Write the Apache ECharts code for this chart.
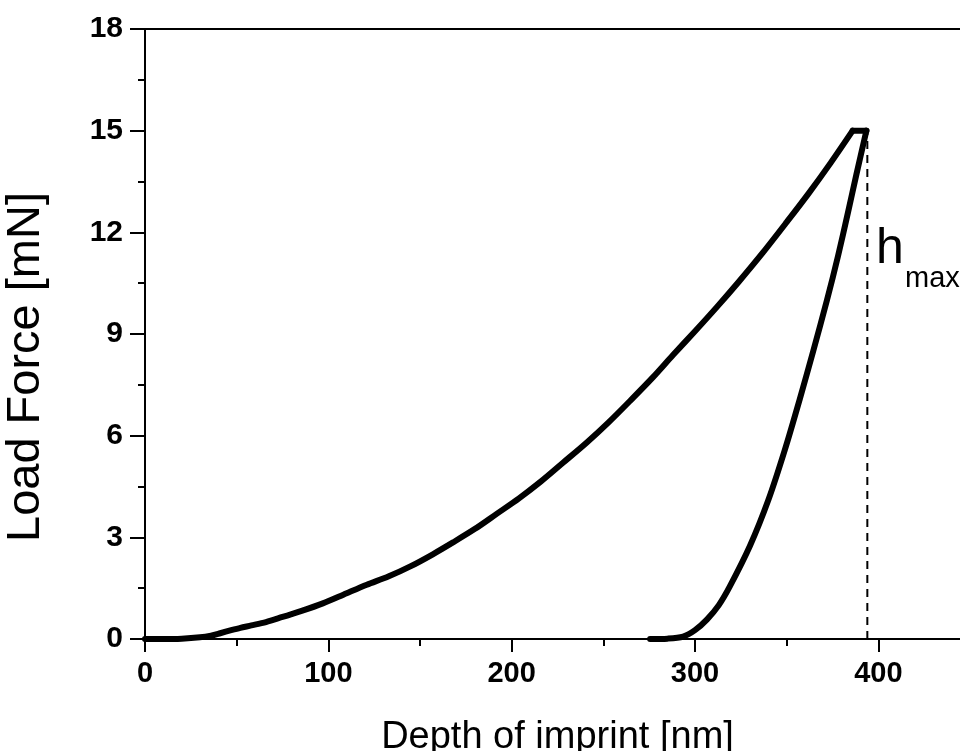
<!DOCTYPE html>
<html>
<head>
<meta charset="utf-8">
<script src="https://cdn.jsdelivr.net/npm/echarts@6/dist/echarts.min.js"></script>
<style>html,body{margin:0;padding:0;background:#fff;}#c{width:960px;height:751px;}</style>
</head>
<body>
<div id="c"></div>
<script>
// Loading branch: depth [nm], force [mN]
const loadDepth = [0,10,20,30,36,41,47,52,58,66,75,85,97,110,121,133,145,157,168,180,192,204,216,228,241,253,265,277,288,300,312,324,337,350,362,374,386];
const loadForce = [0,0,0.01,0.05,0.1,0.17,0.26,0.33,0.4,0.5,0.65,0.82,1.05,1.35,1.6,1.85,2.15,2.5,2.85,3.25,3.7,4.15,4.65,5.2,5.8,6.4,7.05,7.72,8.38,9.08,9.8,10.55,11.4,12.3,13.15,14.05,15.0];
// Hold segment at peak load
const holdDepth = [386,393.5];
const holdForce = [15,15];
// Unloading branch
const unloadDepth = [393.5,388,383.5,378,372,364.5,357,349,340,330,319,313,306.6,300,293.5,285,275.5];
const unloadForce = [15,13.7,12.6,11.3,10.0,8.5,7.05,5.58,4.1,2.75,1.55,1.0,0.58,0.26,0.07,0.01,0];
const hmaxDepth = 394;
const hmaxForce = 15;
const xTicks = [0,100,200,300,400];
const yTicks = [0,3,6,9,12,15,18];
const xName = 'Depth of imprint [nm]';
const yName = 'Load Force [mN]';

const pairs = (xs,ys)=>xs.map((d,i)=>[d,ys[i]]);
const lineStyle = {color:'#000', width:6, cap:'round', join:'round'};

const chart = echarts.init(document.getElementById('c'), null, {renderer:'canvas'});
const font = 'Arial, "Liberation Sans", sans-serif';
chart.setOption({
  backgroundColor:'#fff',
  animation:false,
  grid:{left:145, right:-10, top:29, bottom:112, show:true, borderColor:'#000', borderWidth:2, backgroundColor:'transparent', outerBoundsMode:'none'},
  xAxis:[{
    type:'value', min:0, max:450, interval:100, position:'bottom',
    name:xName, nameLocation:'middle', nameGap:80,
    nameTextStyle:{fontFamily:font, fontSize:38, color:'#000'},
    axisLine:{show:true, onZero:false, lineStyle:{color:'#000', width:2}},
    axisTick:{show:true, inside:false, length:13, lineStyle:{color:'#000', width:2}},
    axisLabel:{fontFamily:font, fontSize:29, fontWeight:'bold', color:'#000', margin:20, showMaxLabel:false,
      formatter:v=>xTicks.includes(v)?String(v):''},
    splitLine:{show:false}
  },{
    type:'value', min:0, max:450, interval:50, position:'bottom',
    axisLine:{show:false, onZero:false},
    axisTick:{show:true, length:7, lineStyle:{color:'#000', width:2}},
    axisLabel:{show:false}, splitLine:{show:false}
  }],
  yAxis:{
    type:'value', min:0, max:18, interval:3,
    name:yName, nameLocation:'middle', nameGap:95,
    nameTextStyle:{fontFamily:font, fontSize:47, color:'#000', padding:[0,66,0,0]},
    axisLine:{show:true, onZero:false, lineStyle:{color:'#000', width:2}},
    axisTick:{show:true, length:15, lineStyle:{color:'#000', width:2}},
    minorTick:{show:true, splitNumber:2, length:7, lineStyle:{color:'#000', width:2}},
    axisLabel:{fontFamily:font, fontSize:30, fontWeight:'bold', color:'#000', margin:22,
      formatter:v=>yTicks.includes(v)?String(v):''},
    splitLine:{show:false}, minorSplitLine:{show:false}
  },
  series:[{
    type:'line', xAxisIndex:0, data:pairs(loadDepth,loadForce), showSymbol:false, symbol:'none', smooth:0.3, lineStyle:lineStyle
  },{
    type:'line', xAxisIndex:0, data:pairs(holdDepth,holdForce), showSymbol:false, symbol:'none', lineStyle:lineStyle
  },{
    type:'line', xAxisIndex:0, data:pairs(unloadDepth,unloadForce), showSymbol:false, symbol:'none', smooth:0.3, lineStyle:lineStyle
  },{
    type:'line', xAxisIndex:0, data:[[hmaxDepth,0],[hmaxDepth,hmaxForce]], showSymbol:false, symbol:'none',
    lineStyle:{color:'#000', width:2, type:[8,6]}
  }],
  graphic:[
    {type:'text', left:876, top:224, style:{text:'h', font:'50px '+font, fill:'#000'}},
    {type:'text', left:905, top:264, style:{text:'max', font:'29px '+font, fill:'#000'}}
  ]
});
</script>
</body>
</html>
